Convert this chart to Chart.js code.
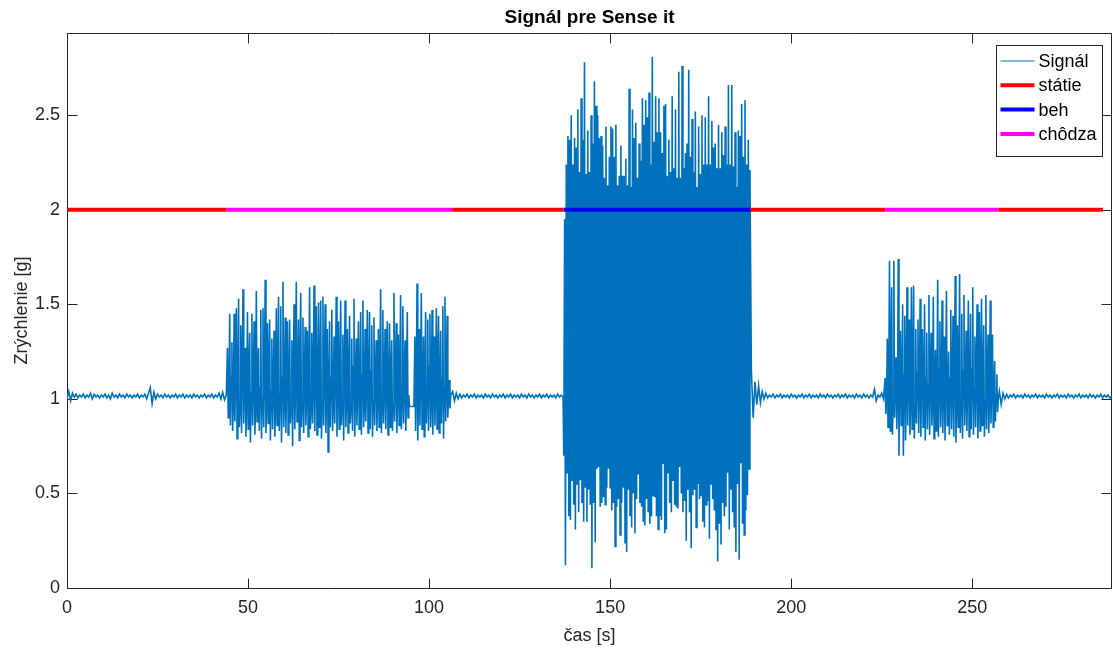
<!DOCTYPE html>
<html>
<head>
<meta charset="utf-8">
<title>Signál pre Sense it</title>
<script src="https://cdn.jsdelivr.net/npm/chart.js@4.4.0/dist/chart.umd.min.js"></script>
<style>
    html, body { margin: 0; padding: 0; background: #ffffff; }
    #wrap { width: 1113px; height: 648px; }
</style>
</head>
<body>
<div id="wrap"><canvas id="signalChart" width="1113" height="648"></canvas></div>
<script>
// Tick labels
const xTicks = [0, 50, 100, 150, 200, 250];
const yTicks = [0, 0.5, 1, 1.5, 2, 2.5];
const xMax = 288.6;
const yMax = 2.935;

// Activity intervals [start, end] in seconds, all drawn at level 2
const stateLevel = 2;
const statieIntervals = [[0, 44.0], [106.4, 137.1], [188.8, 226.0], [257.3, 286.1]];
const behIntervals = [[137.1, 188.8]];
const chodzaIntervals = [[44.0, 106.4], [226.0, 257.3]];

// Quiet parts of the signal, one sample every 0.5 s
const quiet1 = [
    1.00, 1.04, 0.99, 1.03, 1.01, 1.025, 1.005, 1.02, 1.01, 1.025,
    1.005, 1.02, 1.01, 1.03, 1.00, 1.025, 1.01, 1.02, 1.005, 1.02,
    1.01, 1.025, 1.005, 1.02, 1.00, 1.03, 1.01, 1.02, 1.005, 1.025,
    1.01, 1.02, 1.005, 1.025, 1.01, 1.02, 1.005, 1.02, 1.01, 1.025,
    1.005, 1.02, 1.01, 1.025, 1.00, 1.03, 1.06, 0.975, 1.035, 1.00,
    1.025, 1.01, 1.02, 1.005, 1.025, 1.01, 1.02, 1.005, 1.02, 1.01,
    1.025, 1.005, 1.02, 1.01, 1.025, 1.005, 1.02, 1.01, 1.02, 1.005,
    1.025, 1.01, 1.02, 1.005, 1.02, 1.01, 1.025, 1.005, 1.02, 1.01,
    1.025, 1.005, 1.02, 1.01, 1.03, 1.00, 1.035, 0.995, 1.02
];
const quiet2 = [
    1.04, 0.99, 1.03, 1.00, 1.025, 1.005, 1.02, 1.01, 1.025, 1.005,
    1.02, 1.01, 1.025, 1.005, 1.02, 1.01, 1.02, 1.005, 1.025, 1.01,
    1.02, 1.005, 1.025, 1.01, 1.02, 1.005, 1.02, 1.01, 1.025, 1.005,
    1.02, 1.01, 1.025, 1.005, 1.02, 1.01, 1.02, 1.005, 1.025, 1.01,
    1.02, 1.005, 1.025, 1.01, 1.02, 1.005, 1.02, 1.01, 1.025, 1.005,
    1.02, 1.01, 1.025, 1.005, 1.02, 1.01, 1.02, 1.005, 1.025, 1.01,
    1.02, 1.01
];
const quiet3 = [
    1.15, 0.90, 1.09, 0.97, 1.07, 0.98, 1.04, 1.00, 1.03, 1.005,
    1.02, 1.01, 1.025, 1.005, 1.02, 1.01, 1.025, 1.005, 1.02, 1.01,
    1.02, 1.005, 1.025, 1.01, 1.02, 1.005, 1.02, 1.01, 1.025, 1.005,
    1.02, 1.01, 1.025, 1.005, 1.02, 1.01, 1.02, 1.005, 1.025, 1.01,
    1.02, 1.005, 1.025, 1.01, 1.02, 1.005, 1.02, 1.01, 1.025, 1.005,
    1.02, 1.01, 1.025, 1.005, 1.02, 1.01, 1.02, 1.005, 1.025, 1.01,
    1.02, 1.005, 1.025, 1.01, 1.02, 1.005, 1.02, 1.01, 1.05, 0.99,
    1.02, 1.01, 1.03, 1.00
];
const quiet4 = [
    1.04, 0.97, 1.03, 1.00, 1.025, 1.005, 1.02, 1.01, 1.025, 1.005,
    1.02, 1.01, 1.02, 1.005, 1.025, 1.01, 1.02, 1.005, 1.02, 1.01,
    1.025, 1.005, 1.02, 1.01, 1.02, 1.005, 1.025, 1.01, 1.02, 1.005,
    1.02, 1.01, 1.025, 1.005, 1.02, 1.01, 1.02, 1.005, 1.025, 1.01,
    1.02, 1.005, 1.02, 1.01, 1.025, 1.005, 1.02, 1.01, 1.02, 1.005,
    1.025, 1.01, 1.02, 1.005, 1.02, 1.01, 1.025, 1.005, 1.02, 1.01,
    1.02, 1.005, 1.015
];
const gapValues = [0.96, 0.96];

// First walk: one step = peak, trough, middle value
const walk1aPeaks = [
    1.27, 1.45, 1.30, 1.45, 1.48, 1.53, 1.39, 1.58, 1.27, 1.46,
    1.35, 1.45, 1.41, 1.57, 1.27, 1.47, 1.48, 1.63, 1.40, 1.42,
    1.32, 1.36, 1.48, 1.54, 1.49, 1.62, 1.43, 1.41, 1.42, 1.31,
    1.50, 1.62, 1.42, 1.56, 1.43, 1.38, 1.36, 1.59, 1.35, 1.60,
    1.49, 1.51, 1.52, 1.54, 1.50, 1.37, 1.41, 1.47, 1.33, 1.54,
    1.41, 1.52, 1.34, 1.52, 1.37, 1.44, 1.32, 1.53, 1.32, 1.41,
    1.46, 1.52, 1.37, 1.47, 1.46, 1.39, 1.43, 1.31, 1.37, 1.58,
    1.47, 1.37, 1.41, 1.40, 1.31, 1.56, 1.40, 1.34, 1.55, 1.49,
    1.31, 1.46
];
const walk1aTroughs = [
    0.90, 0.86, 0.83, 0.88, 0.79, 0.85, 0.82, 0.87, 0.80, 0.84,
    0.77, 0.86, 0.81, 0.88, 0.83, 0.79, 0.85, 0.82, 0.87, 0.78,
    0.84, 0.80, 0.86, 0.83, 0.77, 0.85, 0.82, 0.81, 0.87, 0.75,
    0.84, 0.88, 0.78, 0.85, 0.82, 0.86, 0.80, 0.84, 0.87, 0.83,
    0.81, 0.85, 0.79, 0.86, 0.82, 0.72, 0.85, 0.83, 0.87, 0.80,
    0.84, 0.86, 0.78, 0.85, 0.82, 0.87, 0.83, 0.80, 0.86, 0.84,
    0.81, 0.85, 0.88, 0.82, 0.84, 0.80, 0.86, 0.83, 0.85, 0.82,
    0.87, 0.84, 0.81, 0.85, 0.83, 0.88, 0.82, 0.86, 0.84, 0.87,
    0.83, 0.90
];
const walk1aMids = [
    1.02, 1.12, 0.98, 1.15, 1.05, 0.96, 1.18, 1.08, 0.99, 1.14,
    1.03, 1.10, 0.97, 1.16, 1.06, 1.00, 1.13, 0.98, 1.19, 1.04,
    1.09, 0.96, 1.15, 1.02, 1.11, 0.99, 1.17, 1.05, 0.97, 1.13,
    1.07, 1.01, 1.16, 0.98, 1.10, 1.04, 1.14, 0.96, 1.08, 1.18,
    1.03, 1.12, 0.99, 1.15, 1.06, 1.00, 1.11, 0.97, 1.16, 1.05,
    1.09, 0.98, 1.14, 1.02, 1.12, 0.96, 1.17, 1.04, 1.08, 1.00,
    1.13, 0.97, 1.10, 1.05, 1.15, 0.99, 1.11, 1.03, 1.16, 0.98,
    1.07, 1.12, 1.01, 1.14, 0.97, 1.09, 1.06, 1.13, 1.00, 1.10,
    1.04, 1.02
];
const walk1bPeaks = [1.33, 1.61, 1.37, 1.56, 1.33, 1.46, 1.42, 1.45, 1.47, 1.33, 1.48, 1.44, 1.36, 1.49, 1.54, 1.44, 1.10];
const walk1bTroughs = [0.83, 0.78, 0.86, 0.84, 0.80, 0.87, 0.83, 0.85, 0.81, 0.86, 0.84, 0.82, 0.87, 0.79, 0.88, 0.90, 0.95];
const walk1bMids = [1.10, 1.02, 1.15, 0.99, 1.12, 1.05, 1.17, 1.00, 1.13, 1.07, 1.16, 0.98, 1.11, 1.06, 1.08, 1.04, 1.02];

// Run: one step = trough, peak
const runTroughs = [
    0.70, 0.12, 0.61, 0.38, 0.36, 0.57, 0.44, 0.31, 0.55, 0.40,
    0.57, 0.45, 0.35, 0.53, 0.35, 0.52, 0.44, 0.105, 0.45, 0.24,
    0.63, 0.64, 0.43, 0.45, 0.48, 0.44, 0.53, 0.63, 0.53, 0.41,
    0.45, 0.22, 0.43, 0.47, 0.28, 0.45, 0.53, 0.24, 0.19, 0.52,
    0.38, 0.32, 0.50, 0.29, 0.47, 0.60, 0.45, 0.43, 0.35, 0.33,
    0.47, 0.40, 0.34, 0.38, 0.49, 0.48, 0.38, 0.31, 0.38, 0.36,
    0.66, 0.29, 0.31, 0.61, 0.45, 0.40, 0.57, 0.44, 0.43, 0.42,
    0.64, 0.50, 0.40, 0.46, 0.25, 0.52, 0.40, 0.21, 0.49, 0.52,
    0.32, 0.55, 0.47, 0.49, 0.35, 0.32, 0.44, 0.46, 0.26, 0.55,
    0.47, 0.41, 0.31, 0.14, 0.34, 0.23, 0.45, 0.38, 0.43, 0.61,
    0.31, 0.52, 0.40, 0.32, 0.19, 0.55, 0.15, 0.66, 0.34, 0.28,
    0.41, 0.49, 0.63
];
const runPeaks = [
    1.95, 2.24, 2.39, 2.37, 2.50, 2.24, 2.38, 2.33, 2.53, 2.20,
    2.59, 2.37, 2.78, 2.19, 2.42, 2.20, 2.50, 2.35, 2.68, 2.55,
    2.50, 2.38, 2.39, 2.34, 2.17, 2.44, 2.13, 2.28, 2.44, 2.43,
    2.28, 2.45, 2.13, 2.18, 2.34, 2.18, 2.18, 2.27, 2.13, 2.64,
    2.12, 2.53, 2.38, 2.46, 2.17, 2.35, 2.26, 2.59, 2.45, 2.58,
    2.49, 2.62, 2.24, 2.81, 2.36, 2.60, 2.41, 2.59, 2.41, 2.30,
    2.55, 2.56, 2.18, 2.37, 2.20, 2.60, 2.22, 2.53, 2.17, 2.73,
    2.17, 2.76, 2.22, 2.30, 2.35, 2.74, 2.28, 2.48, 2.20, 2.52,
    2.12, 2.44, 2.19, 2.50, 2.24, 2.49, 2.24, 2.60, 2.24, 2.47,
    2.33, 2.35, 2.22, 2.45, 2.22, 2.41, 2.29, 2.44, 2.24, 2.66,
    2.24, 2.66, 2.23, 2.41, 2.12, 2.42, 2.39, 2.56, 2.28, 2.58,
    2.24, 2.37, 2.21
];

// Second walk: one step = peak, trough, middle value
const walk2Peaks = [
    1.11, 1.32, 1.73, 1.59, 1.73, 1.22, 1.74, 1.36, 1.50, 1.44,
    1.59, 1.42, 1.59, 1.60, 1.37, 1.42, 1.53, 1.37, 1.50, 1.35,
    1.55, 1.35, 1.54, 1.26, 1.63, 1.41, 1.52, 1.33, 1.57, 1.25,
    1.47, 1.44, 1.65, 1.39, 1.66, 1.45, 1.55, 1.36, 1.52, 1.45,
    1.59, 1.33, 1.50, 1.46, 1.53, 1.39, 1.55, 1.34, 1.52, 1.34,
    1.20, 1.13
];
const walk2Troughs = [
    0.92, 0.85, 0.83, 0.81, 0.90, 0.84, 0.70, 0.86, 0.70, 0.78,
    0.86, 0.81, 0.84, 0.79, 0.87, 0.82, 0.80, 0.85, 0.78, 0.84,
    0.81, 0.86, 0.79, 0.83, 0.80, 0.85, 0.82, 0.78, 0.86, 0.81,
    0.84, 0.80, 0.77, 0.85, 0.82, 0.79, 0.86, 0.83, 0.80, 0.84,
    0.81, 0.85, 0.79, 0.83, 0.86, 0.80, 0.84, 0.82, 0.87, 0.85,
    0.88, 0.93
];
const walk2Mids = [
    1.00, 1.08, 1.15, 0.98, 1.12, 1.04, 1.17, 0.99, 1.13, 1.06,
    1.16, 1.01, 1.10, 0.97, 1.14, 1.05, 1.18, 1.00, 1.11, 1.07,
    1.15, 0.98, 1.12, 1.03, 1.16, 1.00, 1.09, 1.14, 0.97, 1.11,
    1.06, 1.17, 1.01, 1.13, 0.99, 1.15, 1.04, 1.10, 0.98, 1.16,
    1.05, 1.12, 1.00, 1.14, 1.07, 0.99, 1.11, 1.03, 1.08, 1.05,
    1.02, 1.00
];

// Build the signal as {x, y} samples
const signalData = [];

function addSamples(t0, dt, values) {
    values.forEach((v, i) => signalData.push({ x: t0 + i * dt, y: v }));
}

function addSteps(t0, period, columns) {
    const sub = period / columns.length;
    for (let i = 0; i < columns[0].length; i++) {
        columns.forEach((col, k) => {
            if (col[i] !== undefined) signalData.push({ x: t0 + i * period + k * sub, y: col[i] });
        });
    }
}

addSamples(0, 0.5, quiet1);
addSteps(44.32, 0.613, [walk1aPeaks, walk1aTroughs, walk1aMids]);
addSamples(94.6, 1.2, gapValues);
addSteps(96.08, 0.593, [walk1bPeaks, walk1bTroughs, walk1bMids]);
addSamples(106.5, 0.5, quiet2);
addSteps(137.2, 0.457, [runTroughs, runPeaks]);
addSamples(189.0, 0.5, quiet3);
addSteps(225.94, 0.605, [walk2Peaks, walk2Troughs, walk2Mids]);
addSamples(257.5, 0.5, quiet4);

// Horizontal segments with gaps between them
function intervalsToData(intervals) {
    const out = [];
    intervals.forEach(([a, b]) => {
        out.push({ x: a, y: stateLevel }, { x: b, y: stateLevel }, { x: b, y: null });
    });
    return out;
}

// Plugin: MATLAB style box with inward ticks, drawn under the data
const axisBox = {
    id: 'axisBox',
    beforeDatasetsDraw(chart) {
        const { ctx, chartArea: a, scales } = chart;
        const L = Math.floor(a.left) + 0.5, R = Math.floor(a.right) - 0.5;
        const T = Math.floor(a.top) + 0.5, B = Math.floor(a.bottom) + 0.5;
        const tl = 10;
        ctx.save();
        ctx.strokeStyle = '#262626';
        ctx.lineWidth = 1;
        ctx.beginPath();
        ctx.rect(L, T, R - L, B - T);
        xTicks.forEach(v => {
            const px = Math.round(scales.x.getPixelForValue(v)) + 0.5;
            ctx.moveTo(px, B); ctx.lineTo(px, B - tl);
            ctx.moveTo(px, T); ctx.lineTo(px, T + tl);
        });
        yTicks.forEach(v => {
            const py = Math.round(scales.y.getPixelForValue(v)) + 0.5;
            ctx.moveTo(L, py); ctx.lineTo(L + tl, py);
            ctx.moveTo(R, py); ctx.lineTo(R - tl, py);
        });
        ctx.stroke();
        ctx.restore();
    }
};

// Plugin: legend in a box, upper right inside the axes
const boxLegend = {
    id: 'boxLegend',
    afterDraw(chart) {
        const { ctx, chartArea: a } = chart;
        const w = 106, h = 111;
        const left = Math.floor(a.right) - 10 - w + 0.5;
        const top = Math.floor(a.top) + 12 + 0.5;
        ctx.save();
        ctx.fillStyle = '#ffffff';
        ctx.fillRect(left, top, w, h);
        ctx.strokeStyle = '#262626';
        ctx.lineWidth = 1;
        ctx.strokeRect(left, top, w, h);
        ctx.font = '18px "Liberation Sans", Arial, sans-serif';
        ctx.textBaseline = 'middle';
        ctx.textAlign = 'left';
        chart.data.datasets.forEach((ds, i) => {
            const y = top + 15.5 + i * 24.3;
            ctx.strokeStyle = ds.borderColor;
            ctx.lineWidth = ds.legendWidth;
            ctx.beginPath();
            ctx.moveTo(left + 4, y);
            ctx.lineTo(left + 38, y);
            ctx.stroke();
            ctx.fillStyle = '#000000';
            ctx.fillText(ds.label, left + 42, y + 1);
        });
        ctx.restore();
    }
};

Chart.defaults.font.family = '"Liberation Sans", Arial, Helvetica, sans-serif';
Chart.defaults.color = '#262626';

const ctx = document.getElementById('signalChart').getContext('2d');

new Chart(ctx, {
    type: 'line',
    data: {
        datasets: [{
            label: 'Signál',
            data: signalData,
            borderColor: '#0072BD',
            borderWidth: 1.6,
            legendWidth: 1,
            pointRadius: 0,
            tension: 0,
            order: 1
        }, {
            label: 'státie',
            data: intervalsToData(statieIntervals),
            borderColor: '#FF0000',
            borderWidth: 4,
            legendWidth: 4,
            borderCapStyle: 'butt',
            pointRadius: 0,
            spanGaps: false,
            order: 0
        }, {
            label: 'beh',
            data: intervalsToData(behIntervals),
            borderColor: '#0000FF',
            borderWidth: 4,
            legendWidth: 4,
            borderCapStyle: 'butt',
            pointRadius: 0,
            spanGaps: false,
            order: 0
        }, {
            label: 'chôdza',
            data: intervalsToData(chodzaIntervals),
            borderColor: '#FF00FF',
            borderWidth: 4,
            legendWidth: 4,
            borderCapStyle: 'butt',
            pointRadius: 0,
            spanGaps: false,
            order: 0
        }]
    },
    options: {
        responsive: false,
        animation: false,
        devicePixelRatio: 1,
        layout: { padding: { left: 0, right: 1, top: 0, bottom: 0 } },
        scales: {
            x: {
                type: 'linear',
                min: 0,
                max: xMax,
                afterBuildTicks: s => { s.ticks = xTicks.map(v => ({ value: v })); },
                afterFit: s => { s.height = 60; },
                grid: { display: false, drawTicks: false },
                border: { display: false },
                ticks: {
                    autoSkip: false,
                    maxRotation: 0,
                    padding: 9,
                    font: { size: 18 },
                    callback: v => v.toString()
                },
                title: {
                    display: true,
                    text: 'čas [s]',
                    font: { size: 18 },
                    padding: { top: 0, bottom: 1 }
                }
            },
            y: {
                type: 'linear',
                min: 0,
                max: yMax,
                afterBuildTicks: s => { s.ticks = yTicks.map(v => ({ value: v })); },
                afterFit: s => { s.width = 67; },
                grid: { display: false, drawTicks: false },
                border: { display: false },
                ticks: {
                    autoSkip: false,
                    padding: 7,
                    font: { size: 18 },
                    callback: v => v.toString()
                },
                title: {
                    display: true,
                    text: 'Zrýchlenie [g]',
                    font: { size: 18 },
                    padding: { top: 11, bottom: 0 }
                }
            }
        },
        plugins: {
            legend: { display: false },
            tooltip: { enabled: false },
            title: {
                display: true,
                fullSize: false,
                text: 'Signál pre Sense it',
                color: '#000000',
                font: { size: 19, weight: 'bold' },
                padding: { top: 6, bottom: 4.2 }
            }
        }
    },
    plugins: [axisBox, boxLegend]
});
</script>
</body>
</html>
